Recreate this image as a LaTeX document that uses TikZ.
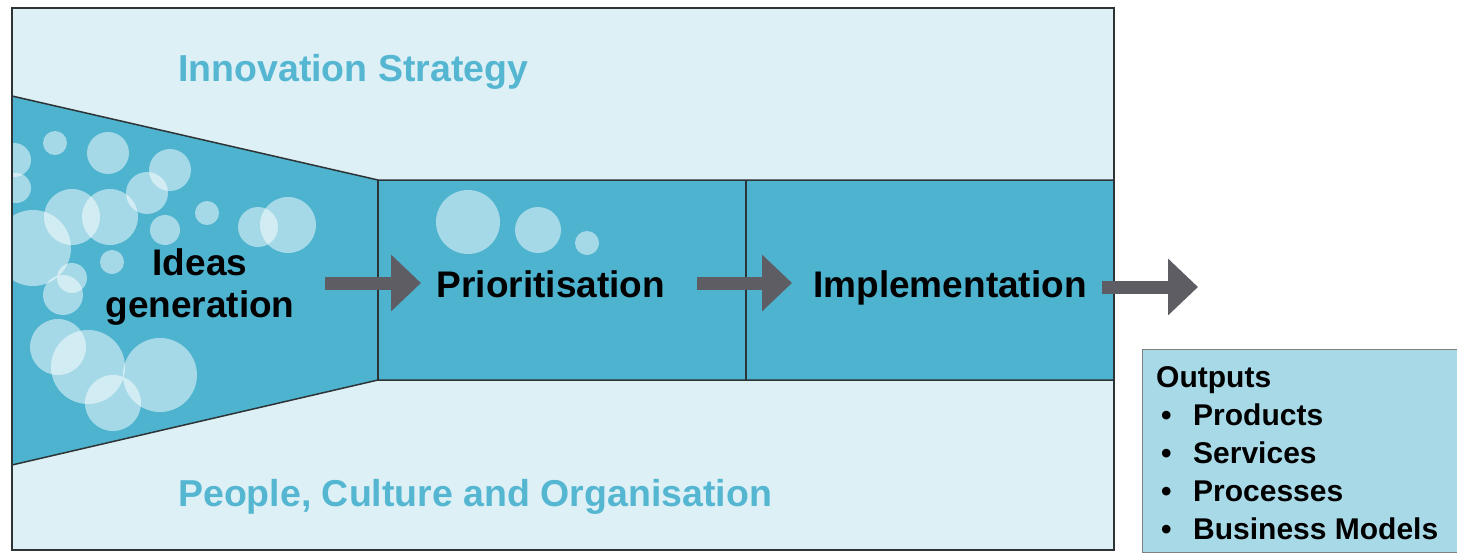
\documentclass[tikz,border=0pt]{standalone}
\usepackage{fontspec}
\setmainfont{Liberation Sans}
\usetikzlibrary{arrows.meta}
\definecolor{paleblue}{HTML}{DDF0F6}
\definecolor{funnelblue}{HTML}{4DB3CF}
\definecolor{outblue}{HTML}{A8D9E7}
\definecolor{titleblue}{HTML}{55B6D2}
\definecolor{arrowgrey}{HTML}{5E5D63}
\definecolor{edgegrey}{HTML}{2E3436}

\begin{document}
\begin{tikzpicture}[x=1pt,y=-1pt,
stage/.style={font=\fontsize{37}{42}\selectfont\bfseries, align=center, inner sep=0},
heading/.style={font=\fontsize{37.5}{42}\selectfont\bfseries, text=titleblue, anchor=base west, inner sep=0},
bubble/.style={fill=white, fill opacity=0.5},
bigarrow/.style={draw=arrowgrey, line width=13pt, -{Triangle[length=30pt,width=55pt]}}]
\useasboundingbox (0,0) rectangle (1457,552);
% frame and funnel
\fill[paleblue] (12,8) rectangle (1114,550);
\fill[funnelblue] (12,96) -- (378,180) -- (1114,180) -- (1114,380) -- (378,380) -- (12,465) -- cycle;
\begin{scope}
\clip (12,96) -- (378,180) -- (378,380) -- (12,465) -- cycle;
\foreach \x/\y/\r in {55/143/12, 108/153/21, 14/160/17, 16/188/15, 170/170/21, 147/193/21,
  110/217/28, 72/217/28, 33/248/38, 207/213/12, 165/230/15, 258/227/20, 288/225/28,
  112/262/12, 72/278/15, 63/295/20, 58/347/28, 88/367/37, 160/375/37, 113/403/28}
  \fill[bubble] (\x,\y) circle (\r);
\end{scope}
\foreach \x/\y/\r in {468/222/32, 538/230/23, 587/243/12}
  \fill[bubble] (\x,\y) circle (\r);
\draw[edgegrey, line width=1.5pt] (12,96) -- (378,180) -- (1114,180) (1114,380) -- (378,380) -- (12,465);
\draw[edgegrey, line width=1.5pt] (378,180) -- (378,380) (746,180) -- (746,380);
\draw[edgegrey, line width=2pt] (12,8) rectangle (1114,550);
% stages
\node[stage] (ideas) at (200,287) {Ideas\\generation};
\node[stage, anchor=base] (prio) at (551,297) {Prioritisation};
\node[stage, anchor=base] (impl) at (950,297) {Implementation};
\node[heading] (strategy) at (178,81) {Innovation Strategy};
\node[heading] (people) at (178,506) {People, Culture and Organisation};
% arrows
\coordinate (a1s) at (325,283);
\coordinate (a1e) at (421,283);
\coordinate (a2s) at (697,283);
\coordinate (a2e) at (792,283);
\coordinate (a3s) at (1102,287);
\coordinate (a3e) at (1198,287);
\draw[bigarrow] (a1s) -- (a1e);
\draw[bigarrow] (a2s) -- (a2e);
\draw[bigarrow] (a3s) -- (a3e);
% outputs
\node[draw=gray, fill=outblue, line width=1pt, anchor=north west, minimum width=315pt, minimum height=203pt, inner sep=0] (outbox) at (1142,349) {};
\node[anchor=north west, align=left, inner sep=0, font=\fontsize{30}{38}\selectfont\bfseries] (outputs) at (1156,366)
{Outputs\\ \makebox[37pt][l]{\,\textbullet}Products\\ \makebox[37pt][l]{\,\textbullet}Services\\ \makebox[37pt][l]{\,\textbullet}Processes\\ \makebox[37pt][l]{\,\textbullet}Business Models};
\end{tikzpicture}
\end{document}
